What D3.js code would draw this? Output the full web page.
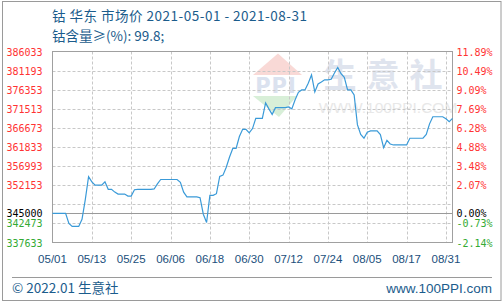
<!DOCTYPE html>
<html><head><meta charset="utf-8">
<script src="https://cdn.jsdelivr.net/npm/d3@7"></script>
<style>html,body{margin:0;padding:0;background:#fff;}svg{display:block;}</style>
</head><body>
<svg id="c" width="503" height="304"></svg>
<script>
// ---- data ----
const titleLine1 = "钴 华东 市场价 2021-05-01 - 2021-08-31";
const titleLine2 = "钴含量≥(%): 99.8;";
const startDate = "2021-05-01";
const endDate = "2021-08-31";
const prices = [
  345000,345000,345000,345000,345000,342470,341700,341700,341700,343500,
  348500,354300,353000,352150,352150,352150,353000,351100,351100,350400,
  349900,349900,349900,349400,349400,351000,351100,351100,351100,351100,
  351100,351200,352500,353600,353600,353600,353600,353600,353600,352900,
  350400,349200,349200,349200,349200,349000,344800,342700,349600,349600,
  350000,354400,354700,356700,359300,361500,361500,364500,366300,366300,
  365400,366500,369100,369100,369100,373000,371500,370100,371800,371800,
  371800,371800,372000,371500,373800,375700,376300,376300,378000,380100,
  375800,377800,378300,378850,378850,379000,380600,382000,380400,379500,
  376300,376300,375000,367500,365000,364050,365600,365900,365900,365900,
  365000,361650,363500,362600,362350,362350,362350,362350,362350,364050,
  364050,364050,364050,364050,365000,367700,369500,369500,369500,369500,
  369000,368250,369100
];
const basePrice = 345000;
const gridValues = [386033,381193,376353,371513,366673,361833,356993,352153,347313,342473,337633];
const leftTickValues = [386033,381193,376353,371513,366673,361833,356993,352153,345000,342473,337633];
const rightTickLabels = ["11.89%","10.49%","9.09%","7.69%","6.28%","4.88%","3.48%","2.07%","0.00%","-0.73%","-2.14%"];
const xTickDates = ["2021-05-01","2021-05-13","2021-05-25","2021-06-06","2021-06-18","2021-06-30","2021-07-12","2021-07-24","2021-08-05","2021-08-17","2021-08-29"];
const xTickLabels = ["05/01","05/13","05/25","06/06","06/18","06/30","07/12","07/24","08/05","08/17","08/31"];
const footerLeft = "© 2022.01 生意社";
const footerRight = "www.100PPI.com";

// ---- drawing ----
const svg = d3.select("#c");
const L = 52.5, R = 452.5, T = 51.5, B = 242.5;
const parse = d3.utcParse("%Y-%m-%d");
const dates = d3.utcDay.range(parse(startDate), d3.utcDay.offset(parse(endDate), 1));
const data = dates.map((d, i) => ({date: d, value: prices[i]}));
const x = d3.scaleUtc().domain([parse(startDate), parse(endDate)]).range([L, R]);
const y = d3.scaleLinear().domain([337633, 386033]).range([B, T]);

// outer frame
svg.append("rect").attr("x", 2.5).attr("y", 1.5).attr("width", 498.5).attr("height", 299)
  .attr("fill", "none").attr("stroke", "#9a9a9a");

// titles
const titleColor = "#1b5c8c";
svg.append("text").attr("x", 52).attr("y", 21).text(titleLine1)
  .attr("font-family", "'Noto Sans CJK SC', sans-serif").attr("font-size", 13.5)
  .attr("letter-spacing", 0.5).attr("fill", titleColor);
svg.append("text").attr("x", 52).attr("y", 41).text(titleLine2)
  .attr("font-family", "'Noto Sans CJK SC', sans-serif").attr("font-size", 13.5).attr("fill", titleColor);

// watermark
const wm = svg.append("g");
wm.append("path").attr("d", `M253,75 L278,53.5 L302,75 Z`).attr("fill", "#f9d9d6");
wm.append("path").attr("d", `M253,96 L297,96 L279,117 Z`).attr("fill", "#d8efd8");
wm.append("text").attr("x", 276).attr("y", 93).attr("text-anchor", "middle").text("PPI")
  .attr("font-family", "'DejaVu Sans', sans-serif").attr("font-weight", "bold").attr("font-size", 21)
  .attr("fill", "#dbe2ef").attr("letter-spacing", 1);
wm.append("text").attr("x", 388).attr("y", 87).attr("text-anchor", "middle").text("生意社")
  .attr("font-family", "'Noto Sans CJK SC', sans-serif").attr("font-weight", "bold").attr("font-size", 33)
  .attr("fill", "#dfe4ee").attr("letter-spacing", 10);
wm.append("text").attr("x", 388).attr("y", 113).attr("text-anchor", "middle").text("WWW.100PPI.COM")
  .attr("font-family", "'Liberation Sans', sans-serif").attr("font-size", 15.5)
  .attr("fill", "#e8e8e8");

// grid
const grid = svg.append("g");
grid.selectAll("line.h").data(gridValues.slice(1, -1)).join("line")
  .attr("x1", L).attr("x2", R).attr("y1", d => Math.round(y(d)) + 0.5).attr("y2", d => Math.round(y(d)) + 0.5)
  .attr("stroke", "#c8c8c8").attr("stroke-dasharray", "3,2");
grid.selectAll("line.v").data(xTickDates.slice(1)).join("line")
  .attr("y1", T).attr("y2", B).attr("x1", d => Math.round(x(parse(d))) + 0.5).attr("x2", d => Math.round(x(parse(d))) + 0.5)
  .attr("stroke", "#c8c8c8").attr("stroke-dasharray", "3,2");
// base line
grid.append("line").attr("x1", L).attr("x2", R)
  .attr("y1", Math.round(y(basePrice)) + 0.5).attr("y2", Math.round(y(basePrice)) + 0.5)
  .attr("stroke", "#9a9a9a");

// plot frame
svg.append("rect").attr("x", L).attr("y", T).attr("width", R - L).attr("height", B - T)
  .attr("fill", "none").attr("stroke", "#a0a0a0");

// line
svg.append("path").datum(data)
  .attr("d", d3.line().x(d => x(d.date)).y(d => y(d.value)))
  .attr("fill", "none").attr("stroke", "#3a9ad8").attr("stroke-width", 1.2);

// left axis labels
const colorFor = v => v > basePrice ? "#ff3333" : (v < basePrice ? "#33aa33" : "#000");
svg.append("g").selectAll("text").data(leftTickValues).join("text")
  .attr("x", 42.5).attr("y", d => y(d) + 4).attr("text-anchor", "end")
  .attr("font-family", "'DejaVu Sans Mono', monospace").attr("font-size", 10)
  .attr("fill", d => colorFor(d)).text(d => d);
// right axis labels
svg.append("g").selectAll("text").data(leftTickValues).join("text")
  .attr("x", 456.5).attr("y", d => y(d) + 4)
  .attr("font-family", "'DejaVu Sans Mono', monospace").attr("font-size", 10)
  .attr("fill", d => colorFor(d)).text((d, i) => rightTickLabels[i]);

// x axis labels
svg.append("g").selectAll("text").data(xTickDates).join("text")
  .attr("x", d => x(parse(d))).attr("y", 263).attr("text-anchor", "middle")
  .attr("font-family", "'Liberation Sans', sans-serif").attr("font-size", 11.5)
  .attr("fill", "#1b4f7c").text((d, i) => xTickLabels[i]);

// footer
svg.append("line").attr("x1", 12).attr("x2", 492).attr("y1", 277.5).attr("y2", 277.5).attr("stroke", "#9a9a9a");
svg.append("text").attr("x", 12).attr("y", 292.5).text(footerLeft)
  .attr("font-family", "'Noto Sans CJK SC', sans-serif").attr("font-size", 13.5).attr("fill", titleColor);
svg.append("text").attr("x", 492).attr("y", 292.5).attr("text-anchor", "end").text(footerRight)
  .attr("font-family", "'Liberation Sans', sans-serif").attr("font-size", 13.5).attr("fill", titleColor);
</script>
</body></html>
